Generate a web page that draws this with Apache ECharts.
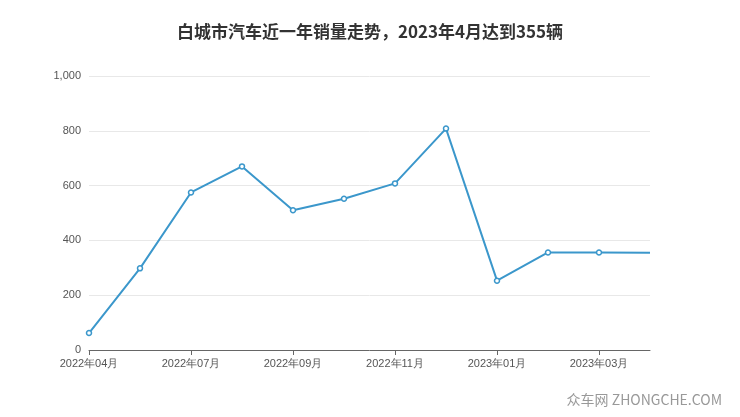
<!DOCTYPE html><html><head><meta charset="utf-8"><script src="https://cdn.jsdelivr.net/npm/echarts@6/dist/echarts.min.js"></script></head><body style="margin:0"><div id="c" style="width:740px;height:417px"></div><script>
const categories=['2022年04月','2022年06月','2022年07月','2022年08月','2022年09月','2022年10月','2022年11月','2022年12月','2023年01月','2023年02月','2023年03月','2023年04月'];
const sales=[62,298,575,670,510,552,608,808,253,356,356,355];
const c=echarts.init(document.getElementById('c'));
const data=sales.map((v,i)=>i===sales.length-1?{value:v,symbol:'none'}:v);
c.setOption({
title:{text:'白城市汽车近一年销量走势，2023年4月达到355辆',left:'center',top:18,textStyle:{fontSize:17,fontWeight:'bold',color:'#333',fontFamily:'Noto Sans CJK SC'}},
graphic:[{type:'text',right:18,bottom:10,style:{text:'众车网 ZHONGCHE.COM',fill:'#999',font:'14px "Noto Sans CJK SC"'}}],
grid:{left:89,right:90,top:76,bottom:67},
xAxis:{type:'category',data:categories,boundaryGap:false,axisLine:{lineStyle:{color:'#666'}},axisTick:{interval:1,lineStyle:{color:'#666'}},axisLabel:{interval:1,color:'#555',fontSize:11}},
yAxis:{type:'value',min:0,max:1000,interval:200,axisLabel:{color:'#555',fontSize:11},splitLine:{lineStyle:{color:'#e8e8e8'}}},
series:[{type:'line',data:data,symbol:'circle',symbolSize:5,itemStyle:{color:'#fff',borderColor:'#3b97cb',borderWidth:1.5},lineStyle:{color:'#3b97cb',width:2}}]
});
</script></body></html>
